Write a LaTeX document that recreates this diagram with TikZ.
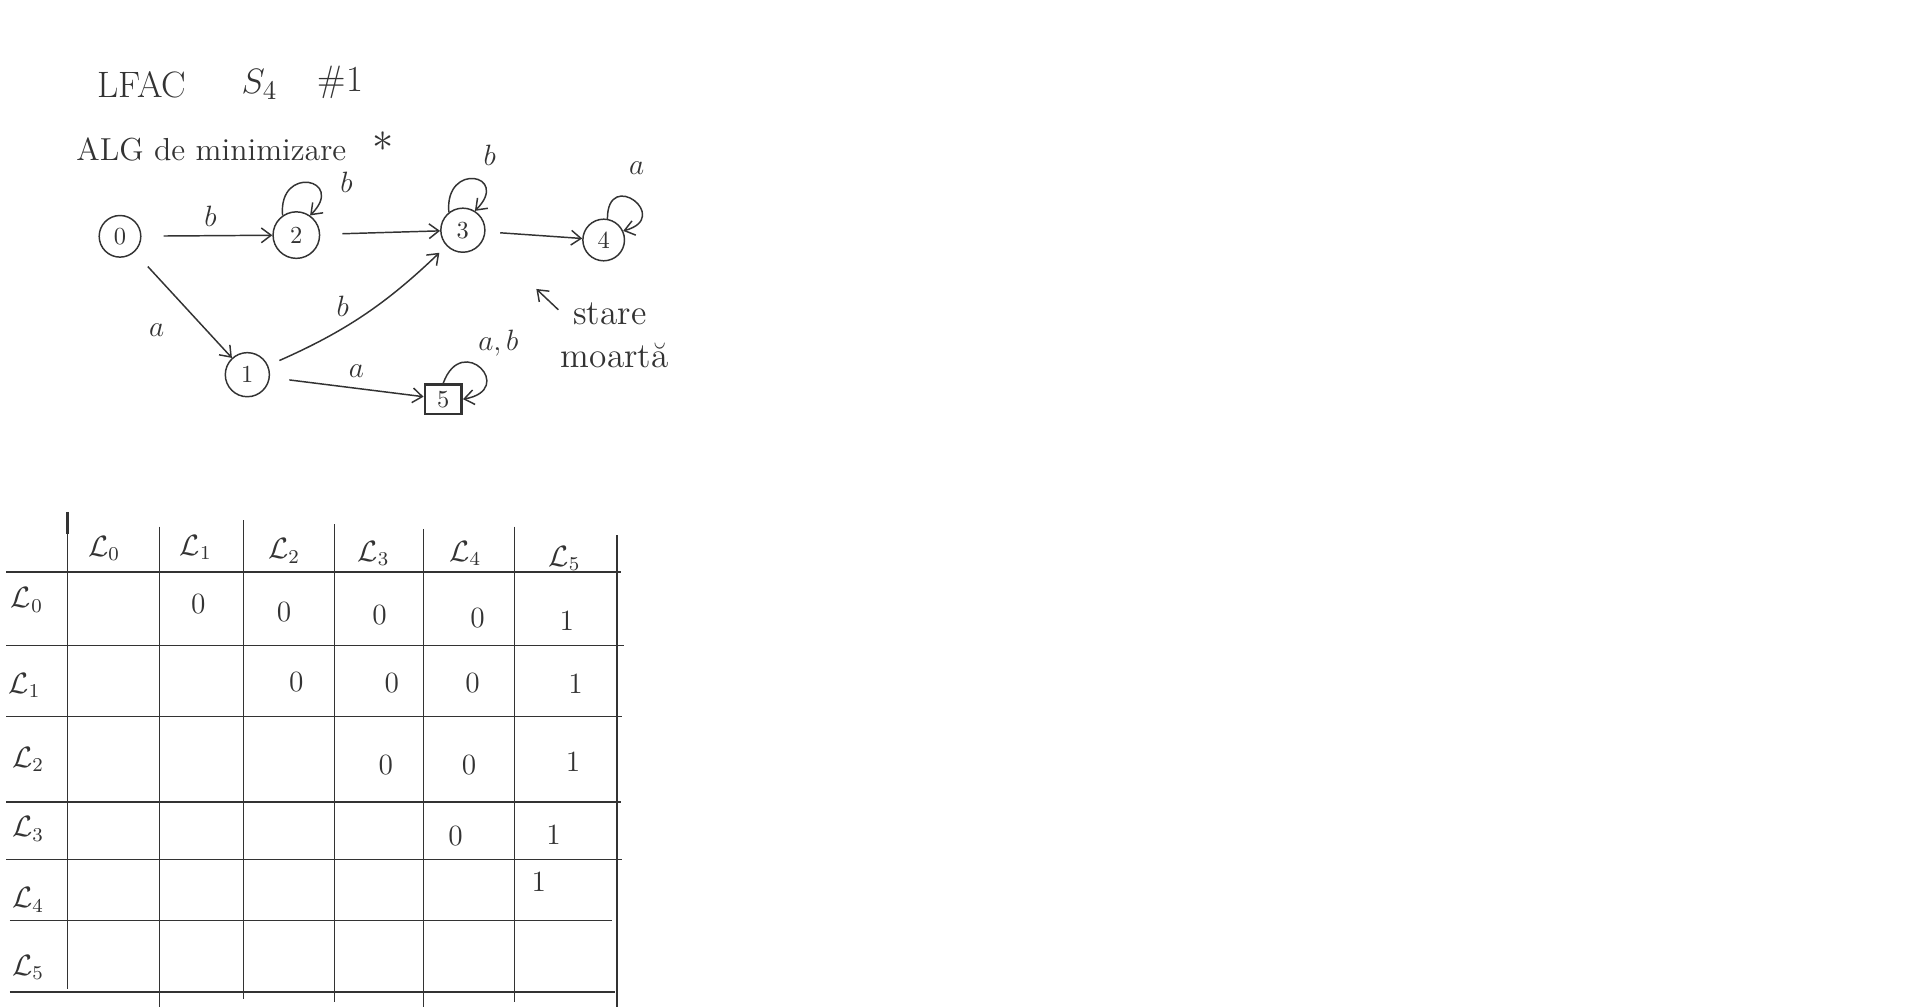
\documentclass[tikz,border=0pt]{standalone}
\usepackage{fontspec}
\usetikzlibrary{arrows.meta}
\definecolor{ink}{HTML}{333333}
\tikzset{
  st/.style={circle,draw=ink,line width=0.6pt,minimum size=17pt,inner sep=0pt,font=\normalsize,text=ink},
  deadbox/.style={rectangle,draw=ink,line width=1.1pt,minimum width=15pt,minimum height=12pt,inner sep=0pt,font=\normalsize,text=ink},
  arr/.style={draw=ink,line width=0.6pt,-{Straight Barb[length=4pt,width=6pt]}},
  lbl/.style={text=ink,font=\large,inner sep=0pt},
  cell/.style={text=ink,font=\large,inner sep=0pt},
  grid/.style={draw=ink,line width=0.55pt},
}
\begin{document}
\begin{tikzpicture}[x=0.5pt,y=0.5pt]
\useasboundingbox[fill=white] (0,0) rectangle (1568,-822);

% title
\node[text=ink,font=\fontsize{15}{18}\selectfont,inner sep=0pt] (t1) at (116,-69) {LFAC};
\node[text=ink,font=\fontsize{15}{18}\selectfont,inner sep=0pt] (t2) at (212,-69) {$S_4$};
\node[text=ink,font=\fontsize{15}{18}\selectfont,inner sep=0pt] (t3) at (278,-67) {\#1};
\node[text=ink,font=\fontsize{13}{16}\selectfont,inner sep=0pt,anchor=west] (t4) at (62,-122) {ALG de minimizare};
\node[text=ink,font=\fontsize{16}{18}\selectfont,inner sep=0pt] (t5) at (313,-116) {$\ast$};

% states
\node[st] (q0) at (98,-193) {0};
\node[st,minimum size=19pt] (q2) at (242,-192) {2};
\node[st,minimum size=18pt] (q3) at (378,-188) {3};
\node[st] (q4) at (493,-196) {4};
\node[st,minimum size=18pt] (q1) at (202,-306) {1};
\node[deadbox] (q5) at (362,-326) {5};

% transitions
\draw[arr,shorten <=9pt] (q0) -- (q2);
\node[lbl] (l02) at (172,-177) {$b$};
\draw[arr,shorten <=9pt] (q2) -- (q3);
\draw[arr,shorten <=6pt] (q3) -- (q4);
\draw[arr,shorten <=8pt] (q0) -- (q1);
\node[lbl] (l01) at (128,-270) {$a$};
\draw[arr,shorten <=5pt,shorten >=4pt] (q1) to[bend right=10] (q3);
\node[lbl] (l13) at (280,-250) {$b$};
\draw[arr,shorten <=8pt] (q1) -- (q5);
\node[lbl] (l15) at (291,-303) {$a$};

% self loops
\draw[arr] (q2.125) .. controls +(95:42) and +(45:42) .. (q2.55);
\node[lbl] (l22) at (283,-149) {$b$};
\draw[arr] (q3.128) .. controls +(95:42) and +(45:42) .. (q3.58);
\node[lbl] (l33) at (400,-127) {$b$};
\draw[arr] (q4.80) .. controls +(90:42) and +(15:42) .. (q4.25);
\node[lbl] (l44) at (520,-137) {$a$};
\draw[arr] (q5.north) .. controls +(70:45) and +(10:45) .. (q5.east);
\node[lbl] (l55) at (407,-280) {$a,b$};

% annotation
\coordinate (annA) at (456,-253);
\coordinate (annB) at (438,-236);
\draw[arr] (annA) -- (annB);
\node[text=ink,font=\Large,inner sep=0pt] (dead1) at (498,-256) {stare};
\node[text=ink,font=\Large,inner sep=0pt] (dead2) at (502,-290) {moartă};

% table grid
\draw[grid] (5,-467) -- (507,-467);
\draw[grid] (5,-527) -- (510,-527);
\draw[grid] (5,-585) -- (508,-585);
\draw[grid] (5,-655) -- (507,-655);
\draw[grid] (5,-702) -- (508,-702);
\draw[grid] (8,-752) -- (500,-752);
\draw[grid] (8,-810) -- (502,-810);
\draw[grid] (55,-418) -- (55,-808);
\draw[grid,line width=1.1pt] (55,-418) -- (55,-436);
\draw[grid] (130,-430) -- (130,-822);
\draw[grid] (199,-425) -- (199,-816);
\draw[grid] (273,-428) -- (273,-818);
\draw[grid] (346,-432) -- (346,-822);
\draw[grid] (420,-430) -- (420,-818);
\draw[grid] (504,-437) -- (504,-822);

% column headers
\node[cell] (h0) at (85,-448) {$\mathcal{L}_0$};
\node[cell] (h1) at (160,-447) {$\mathcal{L}_1$};
\node[cell] (h2) at (232,-450) {$\mathcal{L}_2$};
\node[cell] (h3) at (305,-452) {$\mathcal{L}_3$};
\node[cell] (h4) at (380,-452) {$\mathcal{L}_4$};
\node[cell] (h5) at (461,-456) {$\mathcal{L}_5$};
% row headers
\node[cell] (r0) at (22,-490) {$\mathcal{L}_0$};
\node[cell] (r1) at (20,-560) {$\mathcal{L}_1$};
\node[cell] (r2) at (23,-620) {$\mathcal{L}_2$};
\node[cell] (r3) at (23,-677) {$\mathcal{L}_3$};
\node[cell] (r4) at (23,-735) {$\mathcal{L}_4$};
\node[cell] (r5) at (23,-790) {$\mathcal{L}_5$};

% values
\node[cell] (c01) at (162,-493) {0};
\node[cell] (c02) at (232,-500) {0};
\node[cell] (c03) at (310,-502) {0};
\node[cell] (c04) at (390,-505) {0};
\node[cell] (c05) at (463,-507) {1};
\node[cell] (c12) at (242,-557) {0};
\node[cell] (c13) at (320,-558) {0};
\node[cell] (c14) at (386,-558) {0};
\node[cell] (c15) at (470,-558) {1};
\node[cell] (c23) at (315,-625) {0};
\node[cell] (c24) at (383,-625) {0};
\node[cell] (c25) at (468,-622) {1};
\node[cell] (c34) at (372,-683) {0};
\node[cell] (c35) at (452,-682) {1};
\node[cell] (c45) at (440,-720) {1};
\end{tikzpicture}
\end{document}
